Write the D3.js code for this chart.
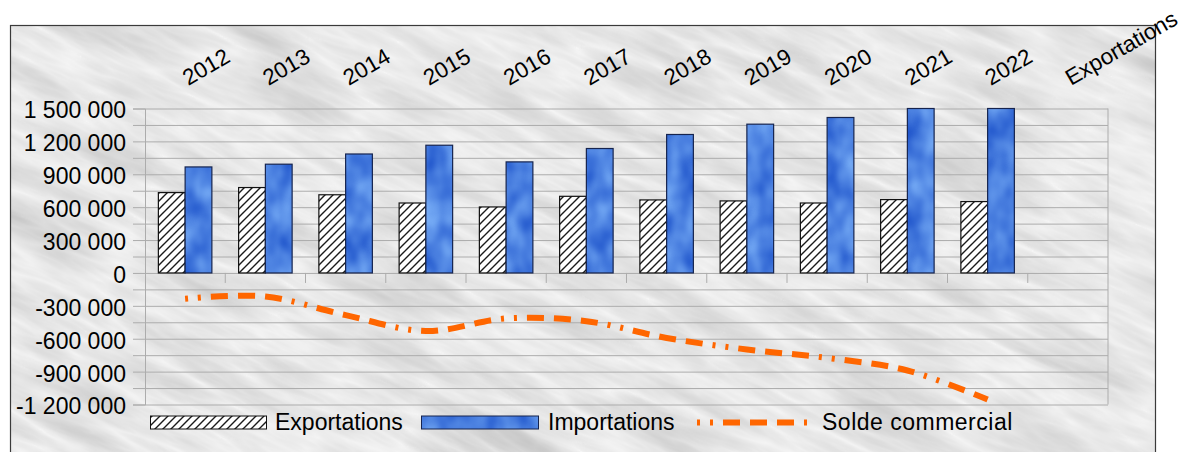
<!DOCTYPE html>
<html><head><meta charset="utf-8">
<script src="https://cdn.jsdelivr.net/npm/d3@7/dist/d3.min.js"></script>
<style>
body{margin:0;background:#fff;}
svg{display:block;font-family:"Liberation Sans",Arial,Helvetica,sans-serif;}
</style>
</head><body>
<svg id="chart" width="1185" height="452"></svg>
<script>
// ---- data ----
const categories = ["2012","2013","2014","2015","2016","2017","2018","2019","2020","2021","2022","Exportations"];
const years = ["2012","2013","2014","2015","2016","2017","2018","2019","2020","2021","2022"];
const exportations = [733000, 779000, 713000, 638000, 602000, 699000, 666000, 657000, 638000, 669000, 651000];
const importations = [967000, 992000, 1085000, 1165000, 1013000, 1135000, 1263000, 1357000, 1418000, 1560000, 1805000];
const solde = [-235000, -215000, -385000, -530000, -415000, -440000, -593000, -698000, -775000, -890000, -1155000];
const yTickLabels = [1500000, 1200000, 900000, 600000, 300000, 0, -300000, -600000, -900000, -1200000];
const seriesNames = ["Exportations", "Importations", "Solde commercial"];

const svg = d3.select("#chart");
const defs = svg.append("defs");

// marble background texture
const fm = defs.append("filter").attr("id","marble").attr("x",0).attr("y",0).attr("width","100%").attr("height","100%")
  .attr("color-interpolation-filters","sRGB");
fm.append("feTurbulence").attr("type","turbulence").attr("baseFrequency","0.006 0.03").attr("numOctaves",4).attr("seed",7).attr("result","t");
fm.append("feColorMatrix").attr("in","t").attr("type","matrix")
  .attr("values","-0.2 0 0 0 0.96  -0.2 0 0 0 0.96  -0.2 0 0 0 0.96  0 0 0 0 1");

// water texture for imports
const fw = defs.append("filter").attr("id","water").attr("color-interpolation-filters","sRGB");
fw.append("feTurbulence").attr("type","fractalNoise").attr("baseFrequency","0.05 0.035").attr("numOctaves",2).attr("seed",3).attr("result","n");
fw.append("feColorMatrix").attr("in","n").attr("type","matrix")
  .attr("values","0.45 0 0 0 0.07  0.45 0 0 0 0.28  0.22 0 0 0 0.77  0 0 0 0 1").attr("result","c");
fw.append("feComposite").attr("in","c").attr("in2","SourceGraphic").attr("operator","in");

// hatch pattern for exports
const hp = defs.append("pattern").attr("id","hatch").attr("patternUnits","userSpaceOnUse").attr("width",8).attr("height",8);
hp.append("rect").attr("width",8).attr("height",8).attr("fill","#fff");
hp.append("path").attr("d","M-2,2 L2,-2 M0,8 L8,0 M6,10 L10,6").attr("stroke","#1a1a1a").attr("stroke-width",1.4);

defs.append("clipPath").attr("id","boxclip").append("rect").attr("x",10).attr("y",25).attr("width",1146).attr("height",440);

// outer chart box with texture
const bg = svg.append("g").attr("clip-path","url(#boxclip)");
bg.append("rect").attr("x",10).attr("y",25).attr("width",1146).attr("height",440).attr("fill","#e2e2e2");
bg.append("g").attr("transform","rotate(24 580 240)")
  .append("rect").attr("x",-200).attr("y",-400).attr("width",1600).attr("height",1300).attr("filter","url(#marble)");
svg.append("rect").attr("x",10.5).attr("y",25.5).attr("width",1145).attr("height",440)
  .attr("fill","none").attr("stroke","#3a3a3a").attr("stroke-width",1.2);

// ---- scales ----
const plot = {left:145, right:1108, top:108.5, bottom:404.5};
const x = d3.scaleBand().domain(categories).range([plot.left, plot.right]);
const xs = d3.scaleBand().domain(["exp","imp"]).range([0, x.bandwidth()]).paddingOuter(0.5);
const y = d3.scaleLinear().domain([-1200000, 1500000]).range([plot.bottom, plot.top]).clamp(true);

const loc = d3.formatLocale({decimal:",", thousands:" ", grouping:[3], currency:["","€"], minus:"-"});
const fmt = loc.format(",");

const gridColor = "#acacac";
// gridlines + ticks (every 150 000)
const minorTicks = d3.range(-1200000, 1500001, 150000);
const yAxis = svg.append("g").attr("transform",`translate(${plot.left},0)`)
  .call(d3.axisLeft(y).tickValues(minorTicks).tickSize(12).tickPadding(7)
    .tickFormat(d => yTickLabels.includes(d) ? fmt(d) : ""));
yAxis.select(".domain").attr("stroke",gridColor);
yAxis.selectAll(".tick line").attr("stroke",gridColor);
yAxis.selectAll(".tick text").attr("font-size",23).attr("fill","#000").attr("dy","0.41em")
  .attr("font-family","'Liberation Sans',Arial,sans-serif");

const grid = svg.append("g").attr("transform",`translate(${plot.left},0)`)
  .call(d3.axisLeft(y).tickValues(minorTicks).tickSize(-(plot.right-plot.left)).tickFormat(""));
grid.select(".domain").remove();
grid.selectAll(".tick line").attr("stroke",gridColor);

// right border of plot area
svg.append("line").attr("x1",plot.right).attr("x2",plot.right).attr("y1",y(1500000)).attr("y2",y(-1200000))
  .attr("stroke",gridColor);

// category boundary ticks below zero line
svg.append("g").selectAll("line").data(categories.slice(1)).join("line")
  .attr("x1",d=>x(d)).attr("x2",d=>x(d)).attr("y1",y(0)).attr("y2",y(0)+10).attr("stroke",gridColor);

// top category labels
svg.append("g").selectAll("text").data(categories).join("text")
  .attr("transform",d=>`translate(${x(d)+x.bandwidth()/2+3},86) rotate(-30)`)
  .attr("font-size",22.5).attr("fill","#000").text(d=>d);

// ---- bars ----
const barsG = svg.append("g");
barsG.selectAll("rect.exp").data(years).join("rect").attr("class","exp")
  .attr("x",d=>x(d)+xs("exp")).attr("width",xs.bandwidth())
  .attr("y",(d,i)=>y(exportations[i])).attr("height",(d,i)=>y(0)-y(exportations[i]))
  .attr("fill","url(#hatch)").attr("stroke","#111").attr("stroke-width",1.2);

barsG.selectAll("rect.impfill").data(years).join("rect").attr("class","impfill")
  .attr("x",d=>x(d)+xs("imp")).attr("width",xs.bandwidth())
  .attr("y",(d,i)=>y(importations[i])).attr("height",(d,i)=>y(0)-y(importations[i]))
  .attr("fill","#4a7fe0").attr("filter","url(#water)");
barsG.selectAll("rect.impst").data(years).join("rect").attr("class","impst")
  .attr("x",d=>x(d)+xs("imp")).attr("width",xs.bandwidth())
  .attr("y",(d,i)=>y(importations[i])).attr("height",(d,i)=>y(0)-y(importations[i]))
  .attr("fill","none").attr("stroke","#16244f").attr("stroke-width",1.2);

// ---- solde line ----
const dash = "3,10,3,10,17,10,17,10,17,10";
const line = d3.line().x((d,i)=>x(years[i])+x.bandwidth()/2).y(d=>y(d)).curve(d3.curveCatmullRom.alpha(0.5));
svg.append("path").datum(solde).attr("d",line).attr("fill","none")
  .attr("stroke","#ff6600").attr("stroke-width",6).attr("stroke-dasharray",dash).attr("stroke-linecap","butt");

// ---- legend ----
const lg = svg.append("g");
const ly = 422.5;
lg.append("rect").attr("x",150.5).attr("y",416).attr("width",116).attr("height",13)
  .attr("fill","url(#hatch)").attr("stroke","#111").attr("stroke-width",1);
lg.append("text").attr("x",275).attr("y",430).attr("font-size",23).text(seriesNames[0]);
lg.append("rect").attr("x",421.5).attr("y",416).attr("width",117).attr("height",13)
  .attr("fill","#4a7fe0").attr("filter","url(#water)");
lg.append("rect").attr("x",421.5).attr("y",416).attr("width",117).attr("height",13)
  .attr("fill","none").attr("stroke","#16244f").attr("stroke-width",1);
lg.append("text").attr("x",548).attr("y",430).attr("font-size",23).text(seriesNames[1]);
lg.append("line").attr("x1",697).attr("x2",810).attr("y1",ly).attr("y2",ly)
  .attr("stroke","#ff6600").attr("stroke-width",6).attr("stroke-dasharray",dash);
lg.append("text").attr("x",822).attr("y",430).attr("font-size",23).attr("letter-spacing",0.5).text(seriesNames[2]);
</script>
</body></html>
